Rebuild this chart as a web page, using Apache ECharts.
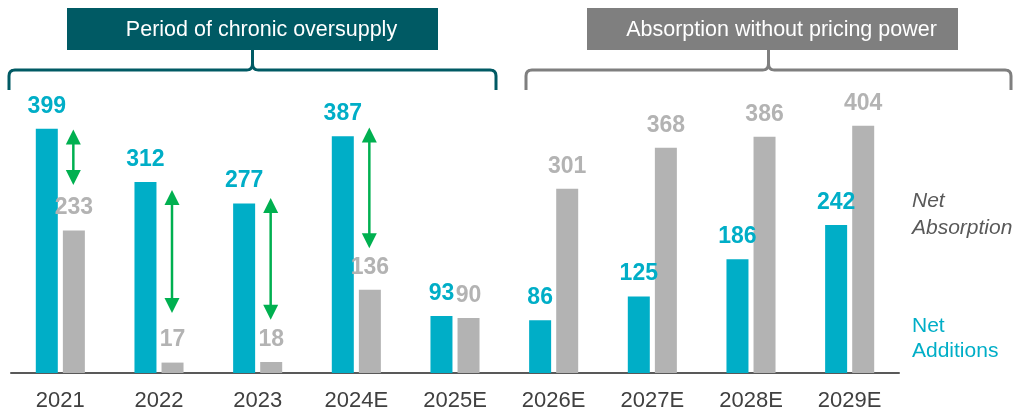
<!DOCTYPE html>
<html>
<head>
<meta charset="utf-8">
<script src="https://cdn.jsdelivr.net/npm/echarts@6/dist/echarts.min.js"></script>
<style>
  html, body { margin: 0; padding: 0; background: #fff; }
  #chart { width: 1015px; height: 415px; }
</style>
</head>
<body>
<div id="chart"></div>
<script>
// data
const years = ['2021', '2022', '2023', '2024E', '2025E', '2026E', '2027E', '2028E', '2029E'];
const netAdditions = [399, 312, 277, 387, 93, 86, 125, 186, 242];
const netAbsorption = [233, 17, 18, 136, 90, 301, 368, 386, 404];

// green gap arrows: [category index, from value, to value]
const gapArrows = [
    [0, 398, 307],
    [1, 299, 98],
    [2, 286, 87],
    [3, 401, 204]
];

const TEAL = '#00AEC7';
const GREY = '#B3B3B3';
const GREEN = '#00B050';
const FONT = 'Liberation Sans, Arial, sans-serif';

const chart = echarts.init(document.getElementById('chart'));

// quarter-circle-ish corner points from (ax,ay) via corner (cx,cy) to (bx,by)
function corner(ax, ay, cx, cy, bx, by) {
    const pts = [];
    for (let i = 0; i <= 4; i++) {
        const t = i / 4;
        pts.push([
            (1 - t) * (1 - t) * ax + 2 * (1 - t) * t * cx + t * t * bx,
            (1 - t) * (1 - t) * ay + 2 * (1 - t) * t * cy + t * t * by
        ]);
    }
    return pts;
}

// bracket with a centre notch
function bracket(x1, x2, yLine, yEnd, yTop, color) {
    const xm = (x1 + x2) / 2;
    const r = 6;
    const style = { fill: null, stroke: color, lineWidth: 3, lineJoin: 'round' };
    const left = [[x1, yEnd]]
        .concat(corner(x1, yLine + r, x1, yLine, x1 + r, yLine))
        .concat(corner(xm - r, yLine, xm, yLine, xm, yLine - r))
        .concat([[xm, yTop]]);
    const right = [[xm, yTop]]
        .concat(corner(xm, yLine - r, xm, yLine, xm + r, yLine))
        .concat(corner(x2 - r, yLine, x2, yLine, x2, yLine + r))
        .concat([[x2, yEnd]]);
    return [
        { type: 'polyline', shape: { points: left }, style: style },
        { type: 'polyline', shape: { points: right }, style: style }
    ];
}

function headerBox(x, w, color, text) {
    return [
        { type: 'rect', shape: { x: x, y: 8, width: w, height: 42 }, style: { fill: color } },
        {
            type: 'text', x: x + w / 2 + 9, y: 30,
            style: { text: text, fill: '#fff', font: '21.5px ' + FONT, align: 'center', verticalAlign: 'middle' }
        }
    ];
}

chart.setOption({
    animation: false,
    grid: { left: 11, right: 116, top: 67, bottom: 42, containLabel: false },
    xAxis: {
        type: 'category',
        data: years,
        axisLine: { lineStyle: { color: '#595959', width: 2 } },
        axisTick: { show: false },
        axisLabel: { color: '#404040', fontSize: 22, fontFamily: FONT, margin: 17 }
    },
    yAxis: {
        type: 'value', min: 0, max: 500,
        show: false,
        splitLine: { show: false }
    },
    series: [
        {
            name: 'Net Additions',
            type: 'bar',
            data: netAdditions,
            barWidth: 22,
            barGap: '23%',
            itemStyle: { color: TEAL },
            label: {
                show: true, position: 'top', distance: 11,
                color: TEAL, fontSize: 23, fontWeight: 'bold', fontFamily: FONT
            }
        },
        {
            name: 'Net Absorption',
            type: 'bar',
            data: netAbsorption,
            barWidth: 22,
            itemStyle: { color: GREY },
            label: {
                show: true, position: 'top', distance: 11,
                color: GREY, fontSize: 23, fontWeight: 'bold', fontFamily: FONT
            }
        },
        {
            type: 'custom',
            data: gapArrows,
            silent: true,
            z: 5,
            renderItem: function (params, api) {
                const p1 = api.coord([api.value(0), api.value(1)]);
                const p2 = api.coord([api.value(0), api.value(2)]);
                const x = p1[0] + 13;
                const head = 15, half = 7.5;
                return {
                    type: 'group',
                    children: [
                        { type: 'line', shape: { x1: x, y1: p1[1] + head - 1, x2: x, y2: p2[1] - head + 1 },
                          style: { stroke: GREEN, lineWidth: 2.5 } },
                        { type: 'polygon', shape: { points: [[x, p1[1]], [x - half, p1[1] + head], [x + half, p1[1] + head]] },
                          style: { fill: GREEN } },
                        { type: 'polygon', shape: { points: [[x, p2[1]], [x - half, p2[1] - head], [x + half, p2[1] - head]] },
                          style: { fill: GREEN } }
                    ]
                };
            }
        }
    ],
    graphic: [
        ...headerBox(67, 371, '#005A64', 'Period of chronic oversupply'),
        ...headerBox(587, 371, '#7F7F7F', 'Absorption without pricing power'),
        ...bracket(9, 496, 70, 90, 50, '#005A64'),
        ...bracket(526, 1011, 70, 90, 50, '#7F7F7F'),
        {
            type: 'text', left: 912, top: 188,
            style: { text: 'Net\nAbsorption', fill: '#595959', font: 'italic 21px ' + FONT, lineHeight: 27 }
        },
        {
            type: 'text', left: 912, top: 314,
            style: { text: 'Net\nAdditions', fill: TEAL, font: '21px ' + FONT, lineHeight: 25 }
        }
    ]
});
</script>
</body>
</html>
